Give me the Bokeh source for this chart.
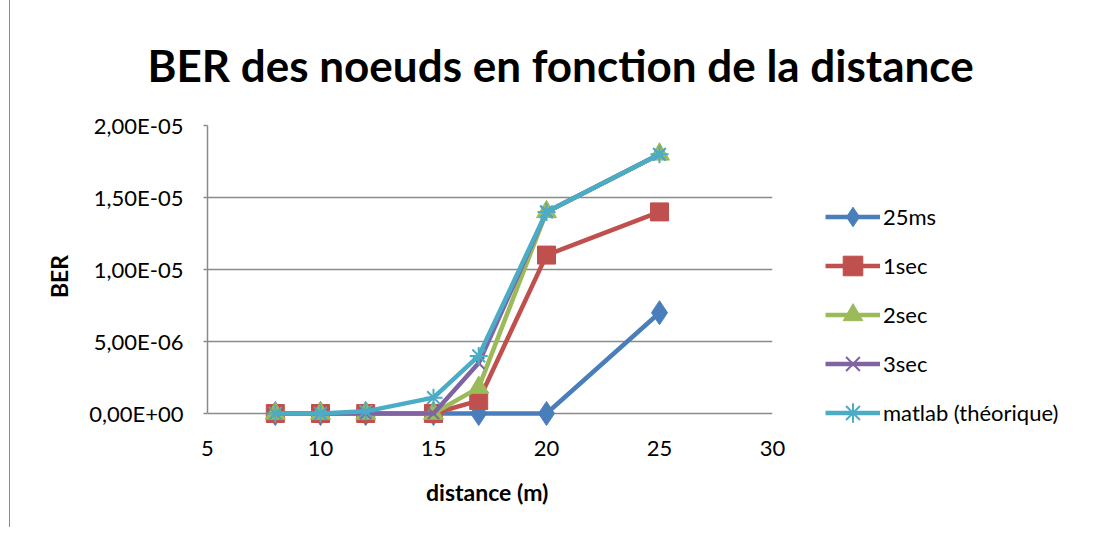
from bokeh.plotting import figure
from bokeh.models import FixedTicker, Legend, LegendItem, Title, Range1d
from bokeh.embed import file_html
from bokeh.resources import INLINE

# ---- data ----
distance = [8, 10, 12, 15, 17, 20, 25]
ber_25ms = [0, 0, 0, 0, 0, 0, 7.0e-6]
ber_1sec = [0, 0, 0, 0, 9.0e-7, 1.1e-5, 1.4e-5]
ber_2sec = [0, 0, 0, 0, 1.8e-6, 1.4e-5, 1.8e-5]
ber_3sec = [0, 0, 0, 0, 3.5e-6, 1.4e-5, 1.8e-5]
ber_matlab = [0, 0, 1.5e-7, 1.1e-6, 4.0e-6, 1.4e-5, 1.8e-5]

series_names = ["25ms", "1sec", "2sec", "3sec", "matlab (théorique)"]
y_ticks = [0, 5e-6, 1e-5, 1.5e-5, 2e-5]
y_tick_labels = ["0,00E+00", "5,00E-06", "1,00E-05", "1,50E-05", "2,00E-05"]
x_ticks = [5, 10, 15, 20, 25, 30]

FONT = "Lato"
GRID = "#8a8a8a"

# a little room below 0 so that markers at 0 are not clipped
p = figure(frame_width=565, frame_height=302,
           x_range=Range1d(5, 30), y_range=Range1d(-9.72e-7, 2e-5),
           output_backend="svg", toolbar_location=None,
           min_border_left=197, min_border_right=328,
           min_border_top=125, min_border_bottom=100)
p.styles = {"border-left": "1px solid #8c8c8c", "margin-left": "9px"}

p.title = Title(text="BER des noeuds en fonction de la distance", align="left",
                text_font=FONT, text_font_size="44px", text_font_style="bold",
                text_color="black", offset=-60, standoff=70)

p.outline_line_color = None
p.background_fill_color = "white"
p.border_fill_color = "white"

p.xgrid.grid_line_color = None
p.ygrid.grid_line_color = GRID
p.ygrid.grid_line_width = 1.5
p.ygrid.ticker = FixedTicker(ticks=y_ticks)

p.yaxis.ticker = FixedTicker(ticks=y_ticks)
p.yaxis.major_label_overrides = {t: l for t, l in zip(y_ticks, y_tick_labels)}
p.yaxis.bounds = (0, 2e-5)
p.xaxis.ticker = FixedTicker(ticks=x_ticks)
p.xaxis.major_label_overrides = {t: str(t) for t in x_ticks}

for ax in (p.xaxis[0], p.yaxis[0]):
    ax.axis_line_color = GRID
    ax.axis_line_width = 1.5
    ax.major_tick_line_color = GRID
    ax.major_tick_line_width = 1.5
    ax.major_tick_in = 0
    ax.major_tick_out = 4
    ax.minor_tick_line_color = None
    ax.major_label_text_font = FONT
    ax.major_label_text_font_size = "22px"
    ax.major_label_text_color = "black"
    ax.axis_label_text_font = FONT
    ax.axis_label_text_font_size = "23px"
    ax.axis_label_text_font_style = "bold"
    ax.axis_label_text_color = "black"

# the 0 grid line acts as the horizontal axis line
p.xaxis.axis_line_color = None
p.xaxis.major_tick_line_color = None
p.xaxis.major_tick_out = 0

p.xaxis.axis_label = "distance  (m)"
p.yaxis.axis_label = "BER"
p.xaxis.major_label_standoff = 13
p.xaxis.axis_label_standoff = 19
p.yaxis.major_label_standoff = 20
p.yaxis.axis_label_standoff = 13

colors = ["#4a7ebb", "#c0504d", "#9bbb59", "#8064a2", "#4bacc6"]
markers = ["diamond", "square", "triangle", "x", "asterisk"]
sizes = [24, 18, 20, 16, 18]
data = [ber_25ms, ber_1sec, ber_2sec, ber_3sec, ber_matlab]

items = []
for name, ys, c, m, s in zip(series_names, data, colors, markers, sizes):
    ln = p.line(distance, ys, line_color=c, line_width=4.5)
    if m in ("x", "asterisk"):
        mk = p.scatter(distance, ys, marker=m, size=s, line_color=c, line_width=2)
    else:
        mk = p.scatter(distance, ys, marker=m, size=s, fill_color=c, line_color=c)
    items.append(LegendItem(label=name, renderers=[ln, mk]))

legend = Legend(items=items, location=(53, -10), orientation="vertical",
                label_text_font=FONT, label_text_font_size="22px",
                label_text_color="black", glyph_width=55, glyph_height=49,
                label_height=49, spacing=0, padding=0, margin=0,
                label_standoff=3, border_line_color=None,
                background_fill_alpha=0)
p.add_layout(legend, "right")

open("out.html", "w").write(file_html(p, INLINE))
